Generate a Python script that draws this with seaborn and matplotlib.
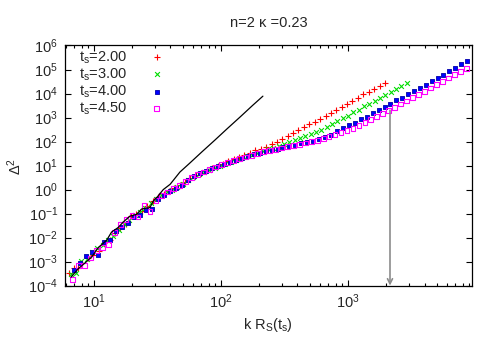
import matplotlib

matplotlib.use("Agg")
import matplotlib.pyplot as plt
import matplotlib.ticker as mticker
import numpy as np
import seaborn as sns

# values, stored as decade exponents (log10)
ts2_logk = [0.803, 0.840, 0.876, 0.910, 0.953, 0.995, 1.038, 1.080, 1.123, 1.165,
            1.208, 1.250, 1.293, 1.335, 1.378, 1.420, 1.463, 1.505, 1.548, 1.590,
            1.633, 1.675, 1.718, 1.760, 1.803, 1.845, 1.888, 1.930, 1.973, 2.015,
            2.058, 2.100, 2.143, 2.185, 2.228, 2.270, 2.313, 2.355, 2.398, 2.440,
            2.483, 2.525, 2.568, 2.610, 2.653, 2.695, 2.738, 2.780, 2.823, 2.865,
            2.908, 2.950, 2.993, 3.035, 3.078, 3.120, 3.163, 3.205, 3.248, 3.290]
ts2_logd2 = [-3.46, -3.27, -3.28, -3.05, -2.85, -2.72, -2.55, -2.22, -2.10, -1.80,
             -1.60, -1.42, -1.12, -1.00, -0.88, -0.68, -0.48, -0.33, -0.20, -0.06,
             0.05, 0.17, 0.33, 0.47, 0.60, 0.70, 0.80, 0.90, 0.99, 1.08,
             1.17, 1.26, 1.36, 1.46, 1.54, 1.63, 1.70, 1.79, 1.89, 2.00,
             2.11, 2.22, 2.34, 2.47, 2.59, 2.71, 2.81, 2.93, 3.05, 3.18,
             3.30, 3.43, 3.57, 3.69, 3.82, 3.96, 4.05, 4.18, 4.32, 4.44]

ts3_logk = [0.816, 0.858, 0.900, 0.942, 0.984, 1.026, 1.068, 1.110, 1.152, 1.194,
            1.236, 1.278, 1.320, 1.362, 1.404, 1.446, 1.488, 1.530, 1.572, 1.614,
            1.656, 1.698, 1.740, 1.782, 1.824, 1.866, 1.908, 1.950, 1.992, 2.034,
            2.076, 2.118, 2.160, 2.202, 2.244, 2.286, 2.328, 2.370, 2.412, 2.454,
            2.496, 2.538, 2.580, 2.622, 2.664, 2.706, 2.748, 2.790, 2.832, 2.874,
            2.916, 2.958, 3.000, 3.042, 3.084, 3.126, 3.168, 3.210, 3.252, 3.294,
            3.336, 3.378, 3.420, 3.462]
ts3_logd2 = [-3.50, -3.48, -2.97, -2.90, -2.62, -2.45, -2.32, -2.10, -1.92, -1.70,
             -1.45, -1.25, -1.05, -0.93, -0.78, -0.58, -0.38, -0.24, -0.12, 0.00,
             0.11, 0.24, 0.40, 0.54, 0.64, 0.73, 0.82, 0.91, 0.99, 1.07,
             1.15, 1.23, 1.31, 1.38, 1.46, 1.53, 1.60, 1.67, 1.75, 1.83,
             1.91, 1.98, 2.06, 2.15, 2.24, 2.33, 2.40, 2.50, 2.62, 2.73,
             2.86, 2.97, 3.08, 3.21, 3.33, 3.46, 3.57, 3.69, 3.82, 3.94,
             4.07, 4.19, 4.32, 4.44]

ts4_logk = [0.847, 0.894, 0.941, 0.988, 1.035, 1.082, 1.129, 1.176, 1.223, 1.270,
            1.317, 1.364, 1.411, 1.458, 1.505, 1.552, 1.599, 1.646, 1.693, 1.740,
            1.787, 1.834, 1.881, 1.928, 1.975, 2.022, 2.069, 2.116, 2.163, 2.210,
            2.257, 2.304, 2.351, 2.398, 2.445, 2.492, 2.539, 2.586, 2.633, 2.680,
            2.727, 2.774, 2.821, 2.869, 2.916, 2.963, 3.010, 3.055, 3.102, 3.150,
            3.194, 3.242, 3.289, 3.333, 3.380, 3.425, 3.472, 3.520, 3.564, 3.612,
            3.659, 3.706, 3.750, 3.798, 3.845, 3.890, 3.937]
ts4_logd2 = [-3.35, -3.05, -2.78, -2.60, -2.72, -2.20, -2.10, -1.72, -1.55, -1.40,
             -1.15, -1.05, -0.85, -0.82, -0.40, -0.22, -0.08, 0.05, 0.20, 0.38,
             0.55, 0.67, 0.77, 0.88, 0.98, 1.07, 1.16, 1.25, 1.32, 1.40,
             1.47, 1.54, 1.60, 1.65, 1.71, 1.76, 1.81, 1.86, 1.92, 1.97,
             2.03, 2.09, 2.17, 2.28, 2.44, 2.55, 2.67, 2.79, 2.92, 3.04,
             3.18, 3.32, 3.44, 3.58, 3.71, 3.83, 3.97, 4.11, 4.23, 4.37,
             4.51, 4.65, 4.79, 4.93, 5.07, 5.21, 5.35]

ts45_logk = [0.830, 0.877, 0.924, 0.971, 1.018, 1.065, 1.112, 1.159, 1.206, 1.253,
             1.300, 1.347, 1.394, 1.441, 1.488, 1.535, 1.582, 1.629, 1.676, 1.723,
             1.770, 1.817, 1.864, 1.911, 1.958, 2.005, 2.052, 2.099, 2.146, 2.193,
             2.240, 2.287, 2.334, 2.381, 2.428, 2.475, 2.522, 2.569, 2.616, 2.663,
             2.710, 2.757, 2.804, 2.851, 2.898, 2.945, 2.992, 3.039, 3.086, 3.133,
             3.180, 3.227, 3.274, 3.321, 3.368, 3.415, 3.462, 3.509, 3.556, 3.603,
             3.650, 3.697, 3.744, 3.791, 3.838, 3.885, 3.932]
ts45_logd2 = [-3.74, -3.15, -3.15, -2.85, -2.55, -2.40, -2.30, -1.78, -1.45, -1.25,
              -1.08, -1.14, -0.68, -0.90, -0.45, -0.25, -0.10, 0.05, 0.18, 0.33,
              0.50, 0.62, 0.73, 0.84, 0.94, 1.04, 1.12, 1.20, 1.29, 1.36,
              1.43, 1.50, 1.57, 1.63, 1.68, 1.73, 1.79, 1.84, 1.89, 1.94,
              2.00, 2.05, 2.12, 2.20, 2.28, 2.37, 2.46, 2.56, 2.67, 2.79,
              2.91, 3.04, 3.17, 3.30, 3.43, 3.56, 3.69, 3.83, 3.97, 4.10,
              4.23, 4.37, 4.51, 4.65, 4.79, 4.93, 5.05]

# black reference curve
ref_logk = [0.819, 0.876, 0.929, 0.982, 1.034, 1.100, 1.139, 1.191, 1.231, 1.283,
            1.336, 1.375, 1.441, 1.467, 1.500, 1.546, 1.600, 1.677, 1.750, 1.850,
            1.950, 2.050, 2.150, 2.250, 2.330]
ref_logd2 = [-3.65, -3.30, -3.06, -2.81, -2.42, -2.11, -1.77, -1.58, -1.35, -1.11,
             -1.03, -0.81, -0.75, -0.48, -0.30, 0.00, 0.22, 0.73, 1.08, 1.57,
             2.05, 2.54, 3.02, 3.51, 3.89]

# arrow marking the scale
arrow_k = 2140.0
arrow_top = 10 ** 3.30

labels = ["2.00", "3.00", "4.00", "4.50"]

sns.set_style("ticks")
plt.rcParams["font.family"] = ["Liberation Sans", "DejaVu Sans"]
plt.rcParams["mathtext.fontset"] = "custom"
plt.rcParams["mathtext.rm"] = "Liberation Sans"
plt.rcParams["mathtext.it"] = "Liberation Sans:italic"
plt.rcParams["mathtext.default"] = "regular"

fig = plt.figure(figsize=(5, 3.5), dpi=100)
ax = fig.add_axes([0.13, 0.184, 0.814, 0.686])

FS = 10.5
styles = [
    dict(marker="+", color="#ff0000", s=16, linewidth=0.8),
    dict(marker="x", color="#00dd00", s=12, linewidth=0.8),
    dict(marker="s", color="#0000ff", s=9, linewidth=0.6, edgecolor="#0000aa"),
    dict(marker="s", s=12, linewidth=0.8, facecolor="none", edgecolor="#ff00ff"),
]
series = [(ts2_logk, ts2_logd2), (ts3_logk, ts3_logd2),
          (ts4_logk, ts4_logd2), (ts45_logk, ts45_logd2)]

for (lk, ld), st, lab in zip(series, styles, labels):
    sns.scatterplot(x=10 ** np.array(lk), y=10 ** np.array(ld), ax=ax,
                    label=r"$\mathdefault{t_{s}}$=" + lab, **st)

sns.lineplot(x=10 ** np.array(ref_logk), y=10 ** np.array(ref_logd2), ax=ax,
             color="black", linewidth=0.9, sort=False, estimator=None)

ax.annotate("", xy=(arrow_k, 1e-4), xytext=(arrow_k, arrow_top),
            arrowprops=dict(arrowstyle="->", color="0.55", lw=1.2,
                            shrinkA=0, shrinkB=0, mutation_scale=9))

ax.set_xscale("log")
ax.set_yscale("log")
ax.set_xlim(5.92, 9460)
ax.set_ylim(1e-4, 1e6)
ax.yaxis.set_major_locator(mticker.LogLocator(base=10, numticks=20))
ax.yaxis.set_minor_locator(mticker.NullLocator())
ax.xaxis.set_minor_locator(mticker.LogLocator(base=10, subs=np.arange(2, 10), numticks=20))

ax.tick_params(which="both", direction="in", top=True, right=True,
               labelsize=FS, color="black", width=0.8)
ax.tick_params(which="major", length=4, pad=5)
ax.tick_params(which="minor", length=2)
for sp in ax.spines.values():
    sp.set_visible(True)
    sp.set_color("black")
    sp.set_linewidth(0.9)

ax.set_xlabel("")
ax.set_ylabel("")
fig.text(0.537, 1 - 23 / 350, "n=2 κ =0.23", ha="center", va="center", fontsize=FS)
fig.text(268 / 500, 1 - 325 / 350, r"k $\mathdefault{R_{S}(t_{s})}$",
         ha="center", va="center", fontsize=FS)
fig.text(15 / 500, 1 - 166 / 350, r"$\mathdefault{Δ^{2}}$", rotation=90,
         ha="center", va="center", fontsize=FS)

ax.legend(loc="upper left", bbox_to_anchor=(0.035, 0.985), frameon=False,
          markerfirst=False, fontsize=FS, handlelength=2.0, handletextpad=1.0,
          labelspacing=0.05, borderpad=0, borderaxespad=0, scatterpoints=1)

fig.savefig("out.png", dpi=100)
